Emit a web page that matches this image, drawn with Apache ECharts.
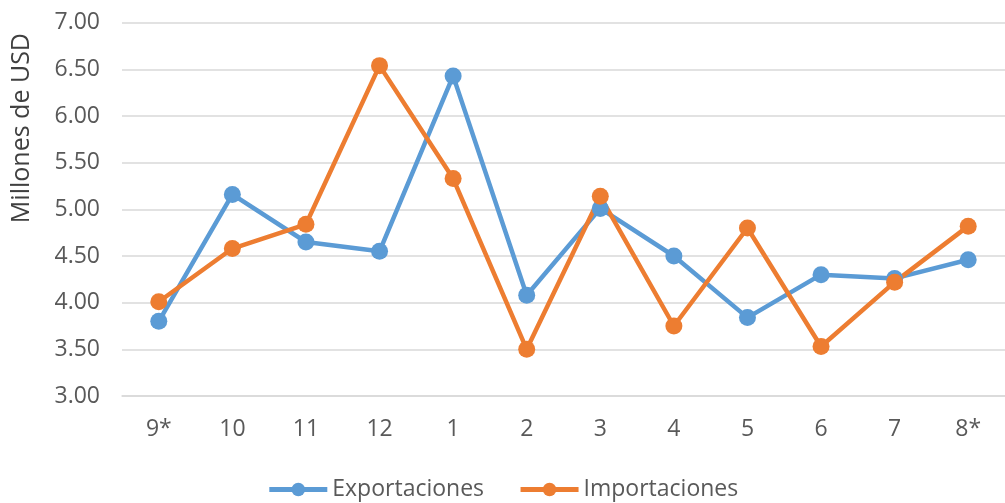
<!DOCTYPE html>
<html>
<head>
<meta charset="utf-8">
<script src="https://cdn.jsdelivr.net/npm/echarts@6/dist/echarts.min.js"></script>
<style>
html,body{margin:0;padding:0;background:#fff;}
#c{width:1005px;height:503px;}
</style>
</head>
<body>
<div id="c"></div>
<script>
const categories = ['9*','10','11','12','1','2','3','4','5','6','7','8*'];
const exportaciones = [3.80, 5.16, 4.65, 4.55, 6.43, 4.08, 5.01, 4.50, 3.84, 4.30, 4.26, 4.46];
const importaciones = [4.01, 4.58, 4.84, 6.54, 5.33, 3.50, 5.14, 3.75, 4.80, 3.53, 4.22, 4.82];
const yTitle = 'Millones de USD';

const font = 'Open Sans, Noto Sans, sans-serif';
const chart = echarts.init(document.getElementById('c'));
chart.setOption({
  animation: false,
  color: ['#5B9BD5', '#ED7D31'],
  grid: { left: 122, right: -9, top: 22.7, bottom: 107, containLabel: false },
  legend: {
    bottom: -3, left: 'center',
    itemWidth: 58, itemHeight: 17, itemGap: 34,
    lineStyle: { width: 5 },
    textStyle: { fontFamily: font, fontSize: 23, color: '#595959' },
    data: ['Exportaciones', 'Importaciones']
  },
  graphic: [{
    type: 'text', left: 9, top: 33, rotation: Math.PI / 2,
    style: { text: yTitle, fontFamily: font, fontSize: 25, fill: '#404040' }
  }],
  xAxis: {
    type: 'category', data: categories, boundaryGap: true,
    axisLine: { show: true, lineStyle: { color: '#d9d9d9', width: 1.5 } },
    axisTick: { show: false },
    axisLabel: { margin: 22, fontFamily: font, fontSize: 23, color: '#595959' }
  },
  yAxis: {
    type: 'value', min: 3, max: 7, interval: 0.5,
    axisLine: { show: false }, axisTick: { show: false },
    splitLine: { lineStyle: { color: '#d9d9d9', width: 1.5 } },
    axisLabel: { margin: 22, fontFamily: font, fontSize: 23, color: '#595959',
      formatter: v => v.toFixed(2) }
  },
  series: [
    { name: 'Exportaciones', type: 'line', data: exportaciones,
      symbol: 'circle', symbolSize: 17, lineStyle: { width: 4.5 } },
    { name: 'Importaciones', type: 'line', data: importaciones,
      symbol: 'circle', symbolSize: 17, lineStyle: { width: 4.5 } }
  ]
});
</script>
</body>
</html>
